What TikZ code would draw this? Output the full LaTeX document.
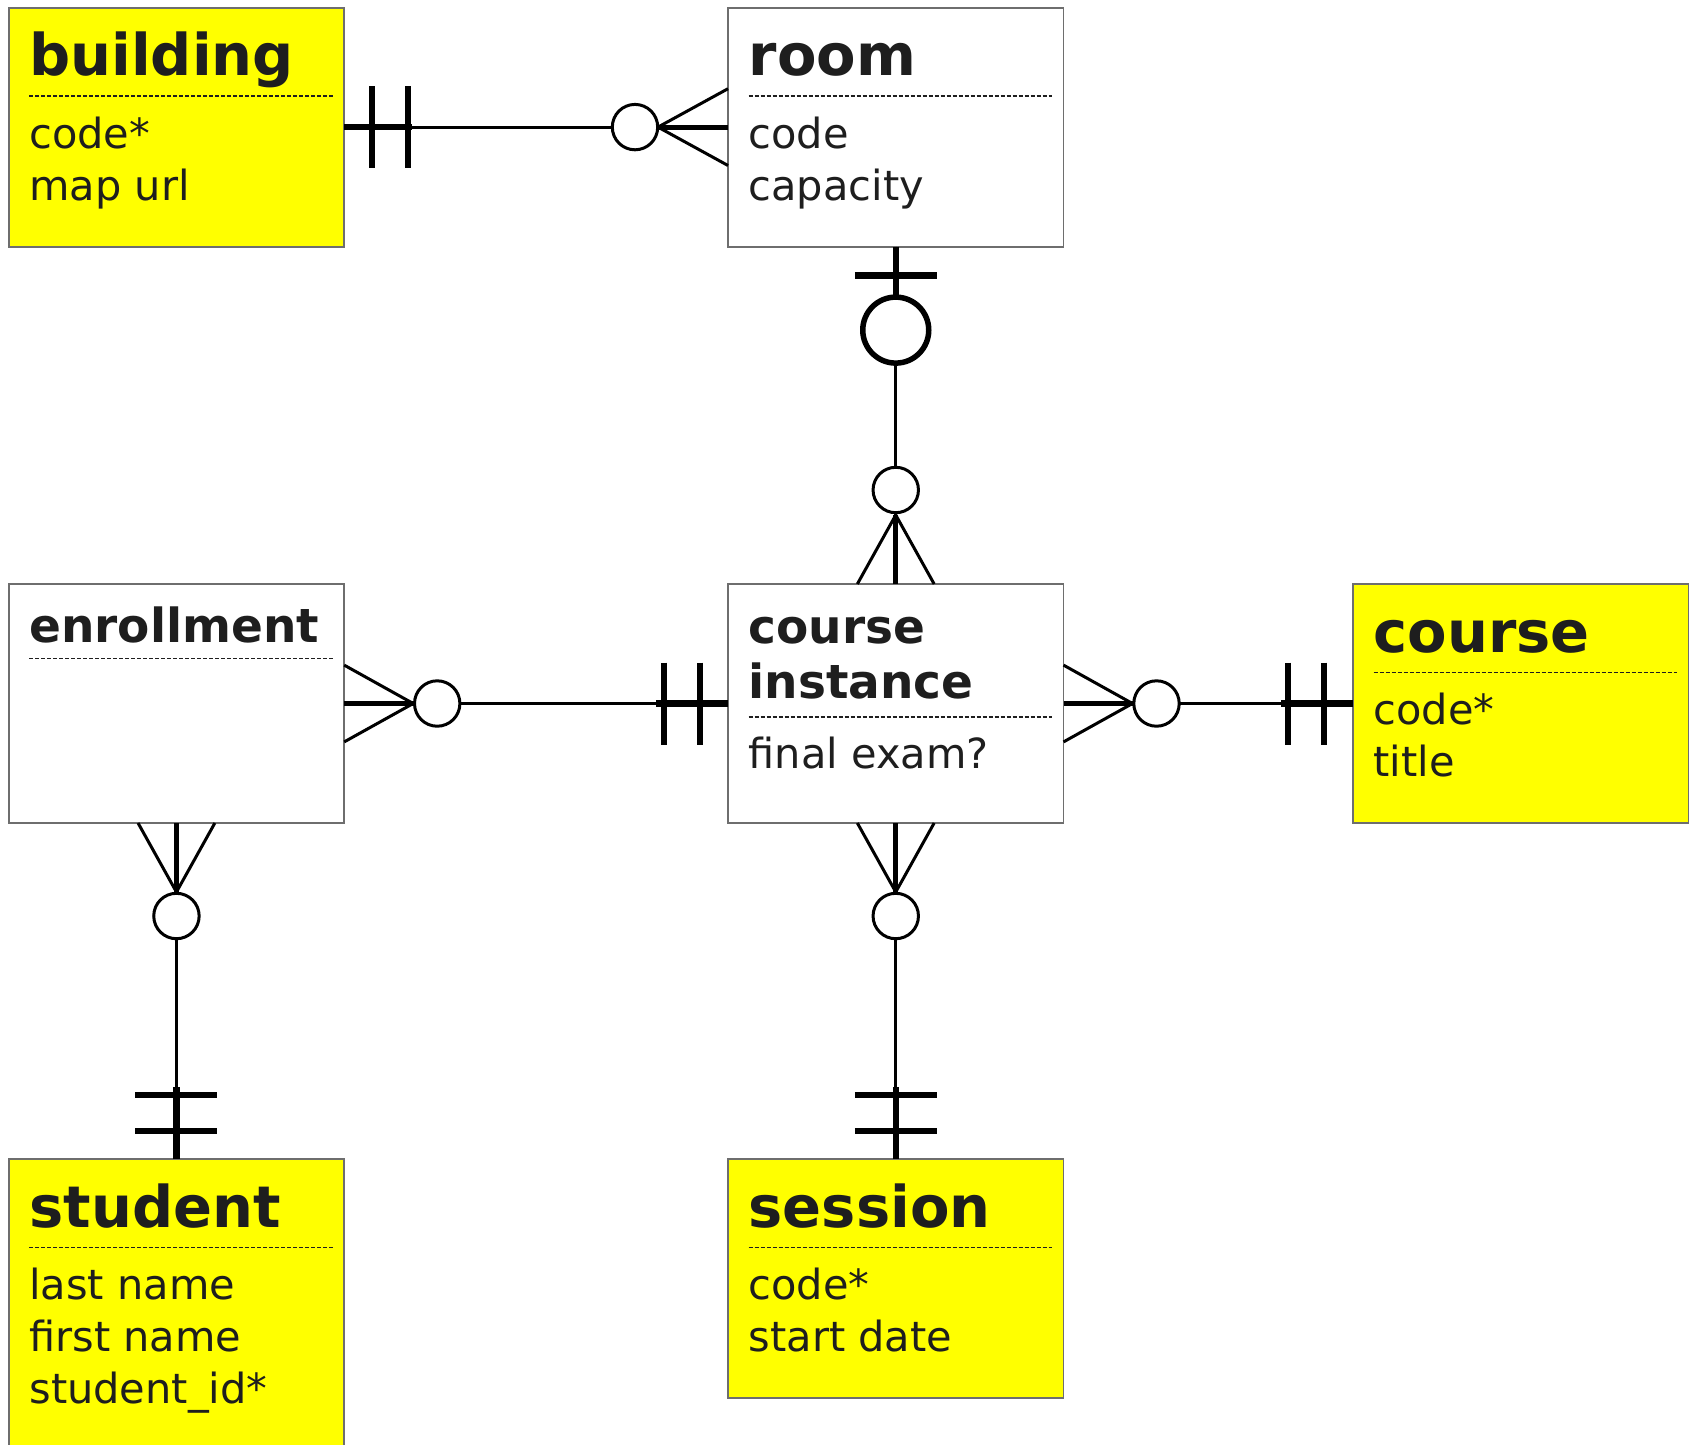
\documentclass[tikz,border=0pt]{standalone}
\usepackage{fontspec}
\setmainfont{DejaVu Sans}
\usetikzlibrary{calc}
\definecolor{EntYellow}{RGB}{255,255,0}
\definecolor{EntText}{RGB}{30,30,30}
\definecolor{EntBorder}{RGB}{110,110,110}

\begin{document}
\begin{tikzpicture}[x=1pt, y=-1pt,
  entity/.style={draw=EntBorder, line width=1.8pt, fill=white, anchor=north west,
    minimum width=335.5pt, minimum height=239pt, inner sep=0pt, outer sep=0pt},
  keyed/.style={fill=EntYellow},
  etitle/.style={anchor=base west, inner sep=0pt, text=EntText, align=left,
    font=\fontsize{57.5}{60}\selectfont\bfseries},
  stitle/.style={etitle, font=\fontsize{47}{55}\selectfont\bfseries},
  attrs/.style={anchor=base west, inner sep=0pt, text=EntText, align=left,
    font=\fontsize{41.5}{52}\selectfont},
  sepline/.style={EntText, line width=1.5pt, dash pattern=on 4pt off 2pt},
  relline/.style={black, line width=3pt},
  midline/.style={black, line width=5pt},
  heavyline/.style={black, line width=6.5pt},
  barline/.style={black, line width=6.5pt}
]
\useasboundingbox (0,0) rectangle (1696,1444);
\clip (0,0) rectangle (1696,1444);

% entities
\node[entity, keyed] (building) at (8.7,7.6) {};
\node[entity] (room) at (728,7.6) {};
\node[entity] (enroll) at (8.7,584) {};
\node[entity] (cinst) at (728,584) {};
\node[entity, keyed] (course) at (1353,584) {};
\node[entity, keyed, minimum height=300pt] (student) at (8.7,1159) {};
\node[entity, keyed] (session) at (728,1159) {};

% texts (base = last line)
% building
\node[etitle] (buildingT) at ($(building.north west)+(20.5,68)$) {building};
\draw[sepline] ($(building.north west)+(20.5,88.5)$) -- ($(building.north east)+(-11.5,88.5)$);
\node[attrs] (buildingA) at ($(building.north west)+(20.5,192.5)$) {code*\\map url};
% room
\node[etitle] (roomT) at ($(room.north west)+(20.5,68)$) {room};
\draw[sepline] ($(room.north west)+(20.5,88.5)$) -- ($(room.north east)+(-11.5,88.5)$);
\node[attrs] (roomA) at ($(room.north west)+(20.5,192.5)$) {code\\capacity};
% enrollment
\node[stitle] (enrollT) at ($(enroll.north west)+(20.5,58.5)$) {enrollment};
\draw[sepline] ($(enroll.north west)+(20.5,74.7)$) -- ($(enroll.north east)+(-11.5,74.7)$);
% course instance
\node[stitle] (cinstT) at ($(cinst.north west)+(20.5,114.7)$) {course\\instance};
\draw[sepline] ($(cinst.north west)+(20.5,133)$) -- ($(cinst.north east)+(-11.5,133)$);
\node[attrs] (cinstA) at ($(cinst.north west)+(20.5,184)$) {final exam?};
% course
\node[etitle] (courseT) at ($(course.north west)+(20.5,68)$) {course};
\draw[sepline] ($(course.north west)+(20.5,88.5)$) -- ($(course.north east)+(-11.5,88.5)$);
\node[attrs] (courseA) at ($(course.north west)+(20.5,192.5)$) {code*\\title};
% student
\node[etitle] (studentT) at ($(student.north west)+(20.5,68)$) {student};
\draw[sepline] ($(student.north west)+(20.5,88.5)$) -- ($(student.north east)+(-11.5,88.5)$);
\node[attrs] (studentA) at ($(student.north west)+(20.5,244.5)$) {last name\\first name\\student\_id*};
% session
\node[etitle] (sessionT) at ($(session.north west)+(20.5,68)$) {session};
\draw[sepline] ($(session.north west)+(20.5,88.5)$) -- ($(session.north east)+(-11.5,88.5)$);
\node[attrs] (sessionA) at ($(session.north west)+(20.5,192.5)$) {code*\\start date};

% building -- room
\draw[relline] (building.east) -- (room.west);
\draw[heavyline] (building.east) -- ++(68,0);
\draw[barline] ($(building.east)+(28,-41)$) -- ++(0,82);
\draw[barline] ($(building.east)+(64,-41)$) -- ++(0,82);
\draw[midline] (room.west) -- ++(-70,0);
\draw[relline] ($(room.west)+(0,-38.4)$) -- ++(-70,38.4) -- ($(room.west)+(0,38.4)$);
\draw[relline, fill=white] ($(room.west)+(-93,0)$) circle[radius=22.7];

% room -- course instance
\draw[relline] (room.south) -- (cinst.north);
\draw[heavyline] (room.south) -- ++(0,52);
\draw[barline, line width=7.5pt] ($(room.south)+(-41,29)$) -- ++(82,0);
\draw[black, line width=5.5pt, fill=white] ($(room.south)+(0,83.5)$) circle[radius=33];
\draw[midline] (cinst.north) -- ++(0,-69);
\draw[relline] ($(cinst.north)+(-38.4,0)$) -- ++(38.4,-69) -- ($(cinst.north)+(38.4,0)$);
\draw[relline, fill=white] ($(cinst.north)+(0,-94)$) circle[radius=22.7];

% enrollment -- course instance
\draw[relline] (enroll.east) -- (cinst.west);
\draw[midline] (enroll.east) -- ++(69,0);
\draw[relline] ($(enroll.east)+(0,-38.4)$) -- ++(69,38.4) -- ($(enroll.east)+(0,38.4)$);
\draw[relline, fill=white] ($(enroll.east)+(93,0)$) circle[radius=22.7];
\draw[heavyline] (cinst.west) -- ++(-72,0);
\draw[barline] ($(cinst.west)+(-64,-41)$) -- ++(0,82);
\draw[barline] ($(cinst.west)+(-28,-41)$) -- ++(0,82);

% course instance -- course
\draw[relline] (cinst.east) -- (course.west);
\draw[midline] (cinst.east) -- ++(69,0);
\draw[relline] ($(cinst.east)+(0,-38.4)$) -- ++(69,38.4) -- ($(cinst.east)+(0,38.4)$);
\draw[relline, fill=white] ($(cinst.east)+(93,0)$) circle[radius=22.7];
\draw[heavyline] (course.west) -- ++(-72,0);
\draw[barline] ($(course.west)+(-65,-41)$) -- ++(0,82);
\draw[barline] ($(course.west)+(-29,-41)$) -- ++(0,82);

% enrollment -- student
\draw[relline] (enroll.south) -- (student.north);
\draw[midline] (enroll.south) -- ++(0,69);
\draw[relline] ($(enroll.south)+(-38.4,0)$) -- ++(38.4,69) -- ($(enroll.south)+(38.4,0)$);
\draw[relline, fill=white] ($(enroll.south)+(0,93)$) circle[radius=22.7];
\draw[heavyline] (student.north) -- ++(0,-72);
\draw[barline] ($(student.north)+(-41,-64)$) -- ++(82,0);
\draw[barline] ($(student.north)+(-41,-28)$) -- ++(82,0);

% course instance -- session
\draw[relline] (cinst.south) -- (session.north);
\draw[midline] (cinst.south) -- ++(0,69);
\draw[relline] ($(cinst.south)+(-38.4,0)$) -- ++(38.4,69) -- ($(cinst.south)+(38.4,0)$);
\draw[relline, fill=white] ($(cinst.south)+(0,93)$) circle[radius=22.7];
\draw[heavyline] (session.north) -- ++(0,-72);
\draw[barline] ($(session.north)+(-41,-64)$) -- ++(82,0);
\draw[barline] ($(session.north)+(-41,-28)$) -- ++(82,0);
\end{tikzpicture}
\end{document}
